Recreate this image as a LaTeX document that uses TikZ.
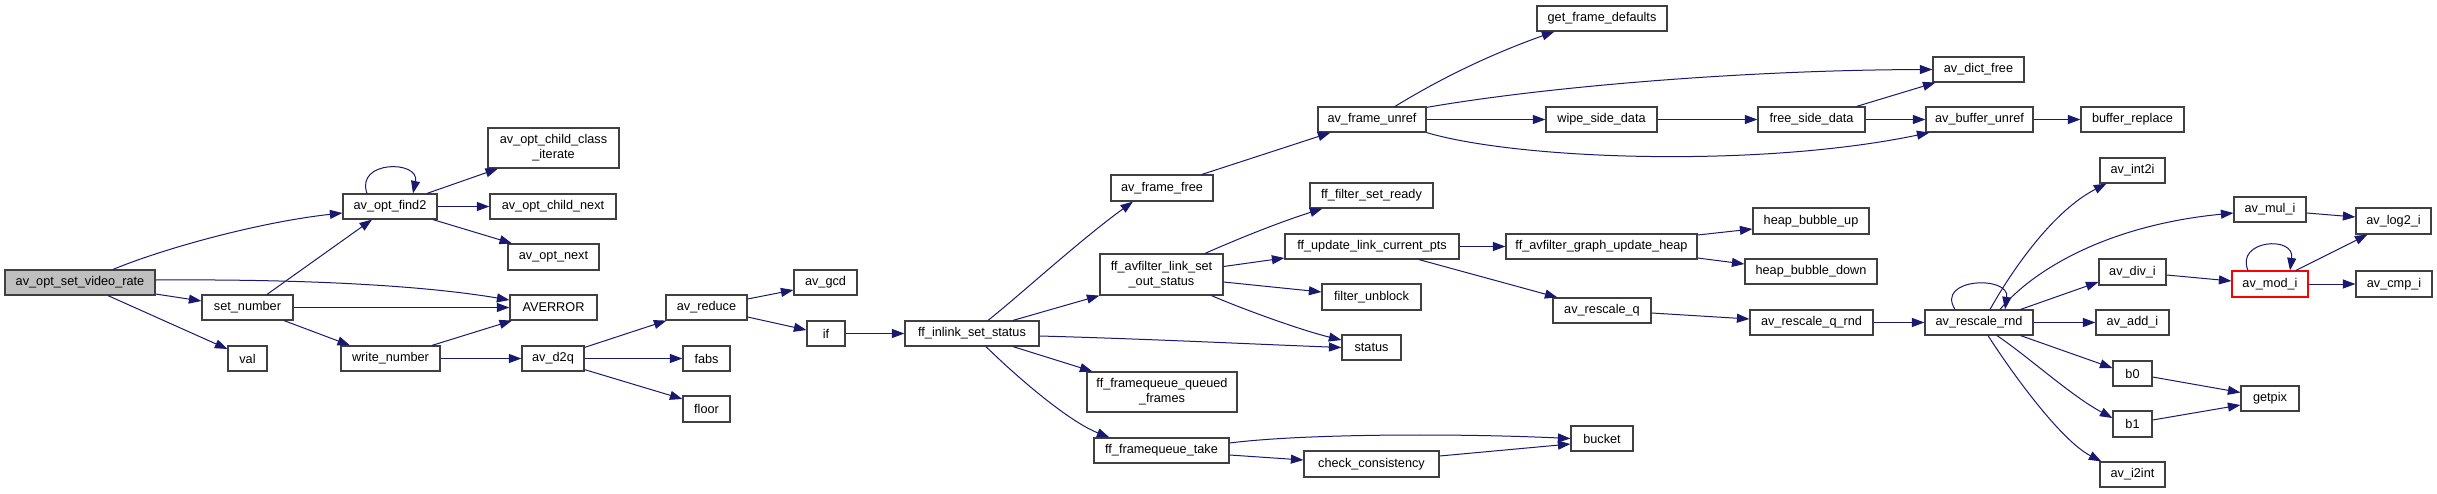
\documentclass[tikz,border=0pt]{standalone}
\usepackage{fontspec}
\setmainfont{Liberation Sans}
\usetikzlibrary{arrows.meta,calc}
\definecolor{edgeblue}{HTML}{191970}
\definecolor{boxline}{HTML}{404040}
\begin{document}
\begin{tikzpicture}[x=1pt,y=-1pt,
  fn/.style={draw=boxline, fill=white, line width=1.2pt, inner sep=0pt, align=center,
    font=\fontsize{12.7}{15}\selectfont, minimum height=25pt},
  e/.style={draw=edgeblue, line width=1pt, -{Triangle[length=12.5pt,width=9pt]}}]
\fill[white] (0,0) rectangle (2437,493);
\useasboundingbox (0,0) rectangle (2437,493);
% nodes
\node[fn, fill=black!25, minimum width=150pt] (vr) at (80,282.5) {av\_opt\_set\_video\_rate};
\node[fn, minimum width=91pt] (setnum) at (247.5,307.5) {set\_number};
\node[fn, minimum width=39pt] (val) at (247.5,358.5) {val};
\node[fn, minimum width=94pt] (find2) at (390,206.5) {av\_opt\_find2};
\node[fn, minimum width=99pt] (writenum) at (390.5,358.5) {write\_number};
\node[fn, minimum width=131pt, minimum height=40pt] (cci) at (553.5,148) {av\_opt\_child\_class\\\_iterate};
\node[fn, minimum width=126pt] (cnext) at (553,206.5) {av\_opt\_child\_next};
\node[fn, minimum width=91pt, minimum height=26pt] (onext) at (553.5,257) {av\_opt\_next};
\node[fn, minimum width=87pt] (averror) at (553.5,307.5) {AVERROR};
\node[fn, minimum width=62pt] (d2q) at (553,358.5) {av\_d2q};
\node[fn, minimum width=81pt] (reduce) at (706.5,307.5) {av\_reduce};
\node[fn, minimum width=47pt] (fabs) at (706.5,358.5) {fabs};
\node[fn, minimum width=47pt, minimum height=26pt] (floor) at (706.5,409) {floor};
\node[fn, minimum width=63pt] (gcd) at (825.5,282.5) {av\_gcd};
\node[fn, minimum width=38pt] (if) at (826,333.5) {if};
\node[fn, minimum width=134pt] (inlink) at (972,333.5) {ff\_inlink\_set\_status};
\node[fn, minimum width=102pt, minimum height=26pt] (framefree) at (1162,188) {av\_frame\_free};
\node[fn, minimum width=123pt, minimum height=41pt] (setout) at (1161.5,274.5) {ff\_avfilter\_link\_set\\\_out\_status};
\node[fn, minimum width=150pt, minimum height=40pt] (queued) at (1162,392) {ff\_framequeue\_queued\\\_frames};
\node[fn, minimum width=135pt] (take) at (1161.5,450.5) {ff\_framequeue\_take};
\node[fn, minimum width=108pt] (unref) at (1372,119.5) {av\_frame\_unref};
\node[fn, minimum width=130pt] (getfd) at (1602,18.5) {get\_frame\_defaults};
\node[fn, minimum width=111pt] (wipe) at (1601.5,119.5) {wipe\_side\_data};
\node[fn, minimum width=123pt] (ready) at (1371.5,195.5) {ff\_filter\_set\_ready};
\node[fn, minimum width=174pt] (updpts) at (1372,246.5) {ff\_update\_link\_current\_pts};
\node[fn, minimum width=99pt, minimum height=26pt] (unblock) at (1371.5,297) {filter\_unblock};
\node[fn, minimum width=59pt] (status) at (1371.5,347.5) {status};
\node[fn, minimum width=135pt, minimum height=26pt] (check) at (1371.5,464) {check\_consistency};
\node[fn, minimum width=191pt] (heap) at (1601.5,246.5) {ff\_avfilter\_graph\_update\_heap};
\node[fn, minimum width=98pt] (rq) at (1602,310.5) {av\_rescale\_q};
\node[fn, minimum width=62pt] (bucket) at (1602,438.5) {bucket};
\node[fn, minimum width=91pt] (dict) at (1978.5,69.5) {av\_dict\_free};
\node[fn, minimum width=107pt] (freesd) at (1811.5,119.5) {free\_side\_data};
\node[fn, minimum width=107pt] (bufunref) at (1979.5,119.5) {av\_buffer\_unref};
\node[fn, minimum width=116pt, minimum height=26pt] (hup) at (1811,221) {heap\_bubble\_up};
\node[fn, minimum width=132pt] (hdown) at (1811,271.5) {heap\_bubble\_down};
\node[fn, minimum width=123pt] (rqrnd) at (1811.5,322.5) {av\_rescale\_q\_rnd};
\node[fn, minimum width=108pt] (rrnd) at (1979,322.5) {av\_rescale\_rnd};
\node[fn, minimum width=103pt] (bufrep) at (2132.5,119.5) {buffer\_replace};
\node[fn, minimum width=65pt] (int2i) at (2132.5,170.5) {av\_int2i};
\node[fn, minimum width=67pt, minimum height=26pt] (divi) at (2132.5,272) {av\_div\_i};
\node[fn, minimum width=73pt] (addi) at (2132.5,322.5) {av\_add\_i};
\node[fn, minimum width=39pt] (b0) at (2132.5,373.5) {b0};
\node[fn, minimum width=39pt, minimum height=26pt] (b1) at (2132.5,424) {b1};
\node[fn, minimum width=65pt] (i2int) at (2132.5,474.5) {av\_i2int};
\node[fn, minimum width=72pt] (muli) at (2270,209.5) {av\_mul\_i};
\node[fn, draw=red, minimum width=76pt, minimum height=26pt] (modi) at (2270,284) {av\_mod\_i};
\node[fn, minimum width=58pt] (getpix) at (2270,398.5) {getpix};
\node[fn, minimum width=75pt, minimum height=26pt] (log2i) at (2393.5,221) {av\_log2\_i};
\node[fn, minimum width=76pt, minimum height=26pt] (cmpi) at (2394,284) {av\_cmp\_i};
% edges
\draw[e] ($(vr.north)+(33,0)$) .. controls (165,248) and (260,222) .. ($(find2.west)+(0,6.5)$);
\draw[e] ($(vr.east)+(0,-2.5)$) .. controls (300,279) and (420,285) .. ($(averror.west)+(0,-7.5)$);
\draw[e] ($(vr.east)+(0,11.5)$) -- ($(setnum.west)+(0,-6.5)$);
\draw[e] ($(vr.south)+(28,0)$) -- ($(val.west)+(0,-9.5)$);
\draw[e] ($(setnum.north)+(19.5,0)$) -- ($(find2.south)+(-18,0)$);
\draw[e] (setnum.east) -- (averror.west);
\draw[e] ($(setnum.south)+(36.5,0)$) -- ($(writenum.north)+(-40.5,0)$);
\draw[e] ($(find2.north)+(-23,0)$) .. controls (355,160) and (420,160) .. ($(find2.north)+(23,0)$);
\draw[e] ($(find2.north)+(37,0)$) -- ($(cci.south)+(-55.5,0)$);
\draw[e] (find2.east) -- (cnext.west);
\draw[e] ($(find2.south)+(43,0)$) -- ($(onext.north)+(-41.5,0)$);
\draw[e] ($(writenum.north)+(41.5,0)$) -- ($(averror.south)+(-41.5,0)$);
\draw[e] (writenum.east) -- (d2q.west);
\draw[e] ($(d2q.north east)+(0,2)$) -- ($(reduce.south west)+(1,0)$);
\draw[e] (d2q.east) -- (fabs.west);
\draw[e] ($(d2q.south east)+(0,-2)$) -- ($(floor.west)+(0,-10)$);
\draw[e] ($(reduce.east)+(0,-8.5)$) -- ($(gcd.west)+(0,7.5)$);
\draw[e] ($(reduce.east)+(0,9.5)$) -- ($(if.west)+(0,-3.5)$);
\draw[e] (if.east) -- (inlink.west);
\draw[e] ($(inlink.north)+(16,0)$) .. controls (1020,295) and (1080,240) .. ($(framefree.south)+(-29,0)$);
\draw[e] ($(inlink.north)+(41,0)$) -- (setout.south west);
\draw[e] ($(inlink.east)+(0,2.5)$) .. controls (1150,339) and (1250,344) .. (status.west);
\draw[e] ($(inlink.south)+(41,0)$) -- ($(queued.north west)+(6,0)$);
\draw[e] ($(inlink.south)+(14,0)$) .. controls (1020,380) and (1070,422) .. ($(take.north west)+(16,0)$);
\draw[e] ($(framefree.north)+(40,0)$) -- ($(unref.south west)+(13,0)$);
\draw[e] ($(unref.north)+(23,0)$) .. controls (1430,85) and (1480,58) .. ($(getfd.south west)+(18,0)$);
\draw[e] ($(unref.north east)+(0,1)$) .. controls (1550,86) and (1750,70) .. (dict.west);
\draw[e] (unref.east) -- (wipe.west);
\draw[e] (unref.south east) .. controls (1520,160) and (1760,168) .. ($(bufunref.south west)+(4,0)$);
\draw[e] (wipe.east) -- (freesd.west);
\draw[e] ($(freesd.north east)+(-9,0)$) -- ($(dict.south west)+(3,0)$);
\draw[e] (freesd.east) -- (bufunref.west);
\draw[e] (bufunref.east) -- (bufrep.west);
\draw[e] ($(setout.north)+(43.5,0)$) .. controls (1240,238) and (1280,222) .. ($(ready.south west)+(13,0)$);
\draw[e] ($(setout.east)+(0,-8)$) -- ($(updpts.west)+(0,11.5)$);
\draw[e] ($(setout.east)+(0,7.5)$) -- ($(unblock.west)+(0,-5)$);
\draw[e] ($(setout.south)+(50,0)$) .. controls (1240,308) and (1300,330) .. ($(status.west)+(0,-7.5)$);
\draw[e] (updpts.east) -- (heap.west);
\draw[e] ($(updpts.south)+(47,0)$) -- ($(rq.north west)+(5,0)$);
\draw[e] ($(heap.east)+(0,-11.5)$) -- ($(hup.west)+(0,8)$);
\draw[e] ($(heap.east)+(0,11.5)$) -- ($(hdown.west)+(0,-7.5)$);
\draw[e] ($(rq.east)+(0,2.5)$) -- ($(rqrnd.west)+(0,-3.5)$);
\draw[e] (rqrnd.east) -- (rrnd.west);
\draw[e] ($(rrnd.north)+(-24,0)$) .. controls (1935,278) and (2010,275) .. ($(rrnd.north)+(26,0)$);
\draw[e] ($(rrnd.north)+(11,0)$) .. controls (2015,265) and (2055,210) .. ($(int2i.south west)+(7,0)$);
\draw[e] ($(rrnd.north)+(21,0)$) .. controls (2035,268) and (2110,225) .. ($(muli.west)+(0,3.5)$);
\draw[e] ($(rrnd.north east)+(-13,0)$) -- ($(divi.west)+(0,10)$);
\draw[e] (rrnd.east) -- (addi.west);
\draw[e] ($(rrnd.south east)+(-13,0)$) -- ($(b0.west)+(0,-5.5)$);
\draw[e] ($(rrnd.south)+(18,0)$) .. controls (2030,358) and (2070,395) .. ($(b1.west)+(0,-6)$);
\draw[e] ($(rrnd.south)+(9,0)$) .. controls (2010,370) and (2060,440) .. ($(i2int.north west)+(2,0)$);
\draw[e] ($(muli.east)+(0,3.5)$) -- ($(log2i.west)+(0,-4)$);
\draw[e] ($(divi.east)+(0,3)$) -- ($(modi.west)+(0,-3)$);
\draw[e] ($(modi.north)+(-22,0)$) .. controls (2235,240) and (2295,235) .. ($(modi.north)+(20,0)$);
\draw[e] ($(modi.north)+(26,0)$) -- ($(log2i.south west)+(12,0)$);
\draw[e] (modi.east) -- (cmpi.west);
\draw[e] ($(b0.east)+(0,3.5)$) -- ($(getpix.west)+(0,-6)$);
\draw[e] ($(b1.east)+(0,-4)$) -- ($(getpix.west)+(0,6.5)$);
\draw[e] ($(take.east)+(0,-7.5)$) .. controls (1300,434) and (1450,433) .. (bucket.west);
\draw[e] ($(take.east)+(0,4.5)$) -- ($(check.west)+(0,-4)$);
\draw[e] ($(check.east)+(0,-8)$) -- ($(bucket.west)+(0,5.5)$);
\end{tikzpicture}
\end{document}
